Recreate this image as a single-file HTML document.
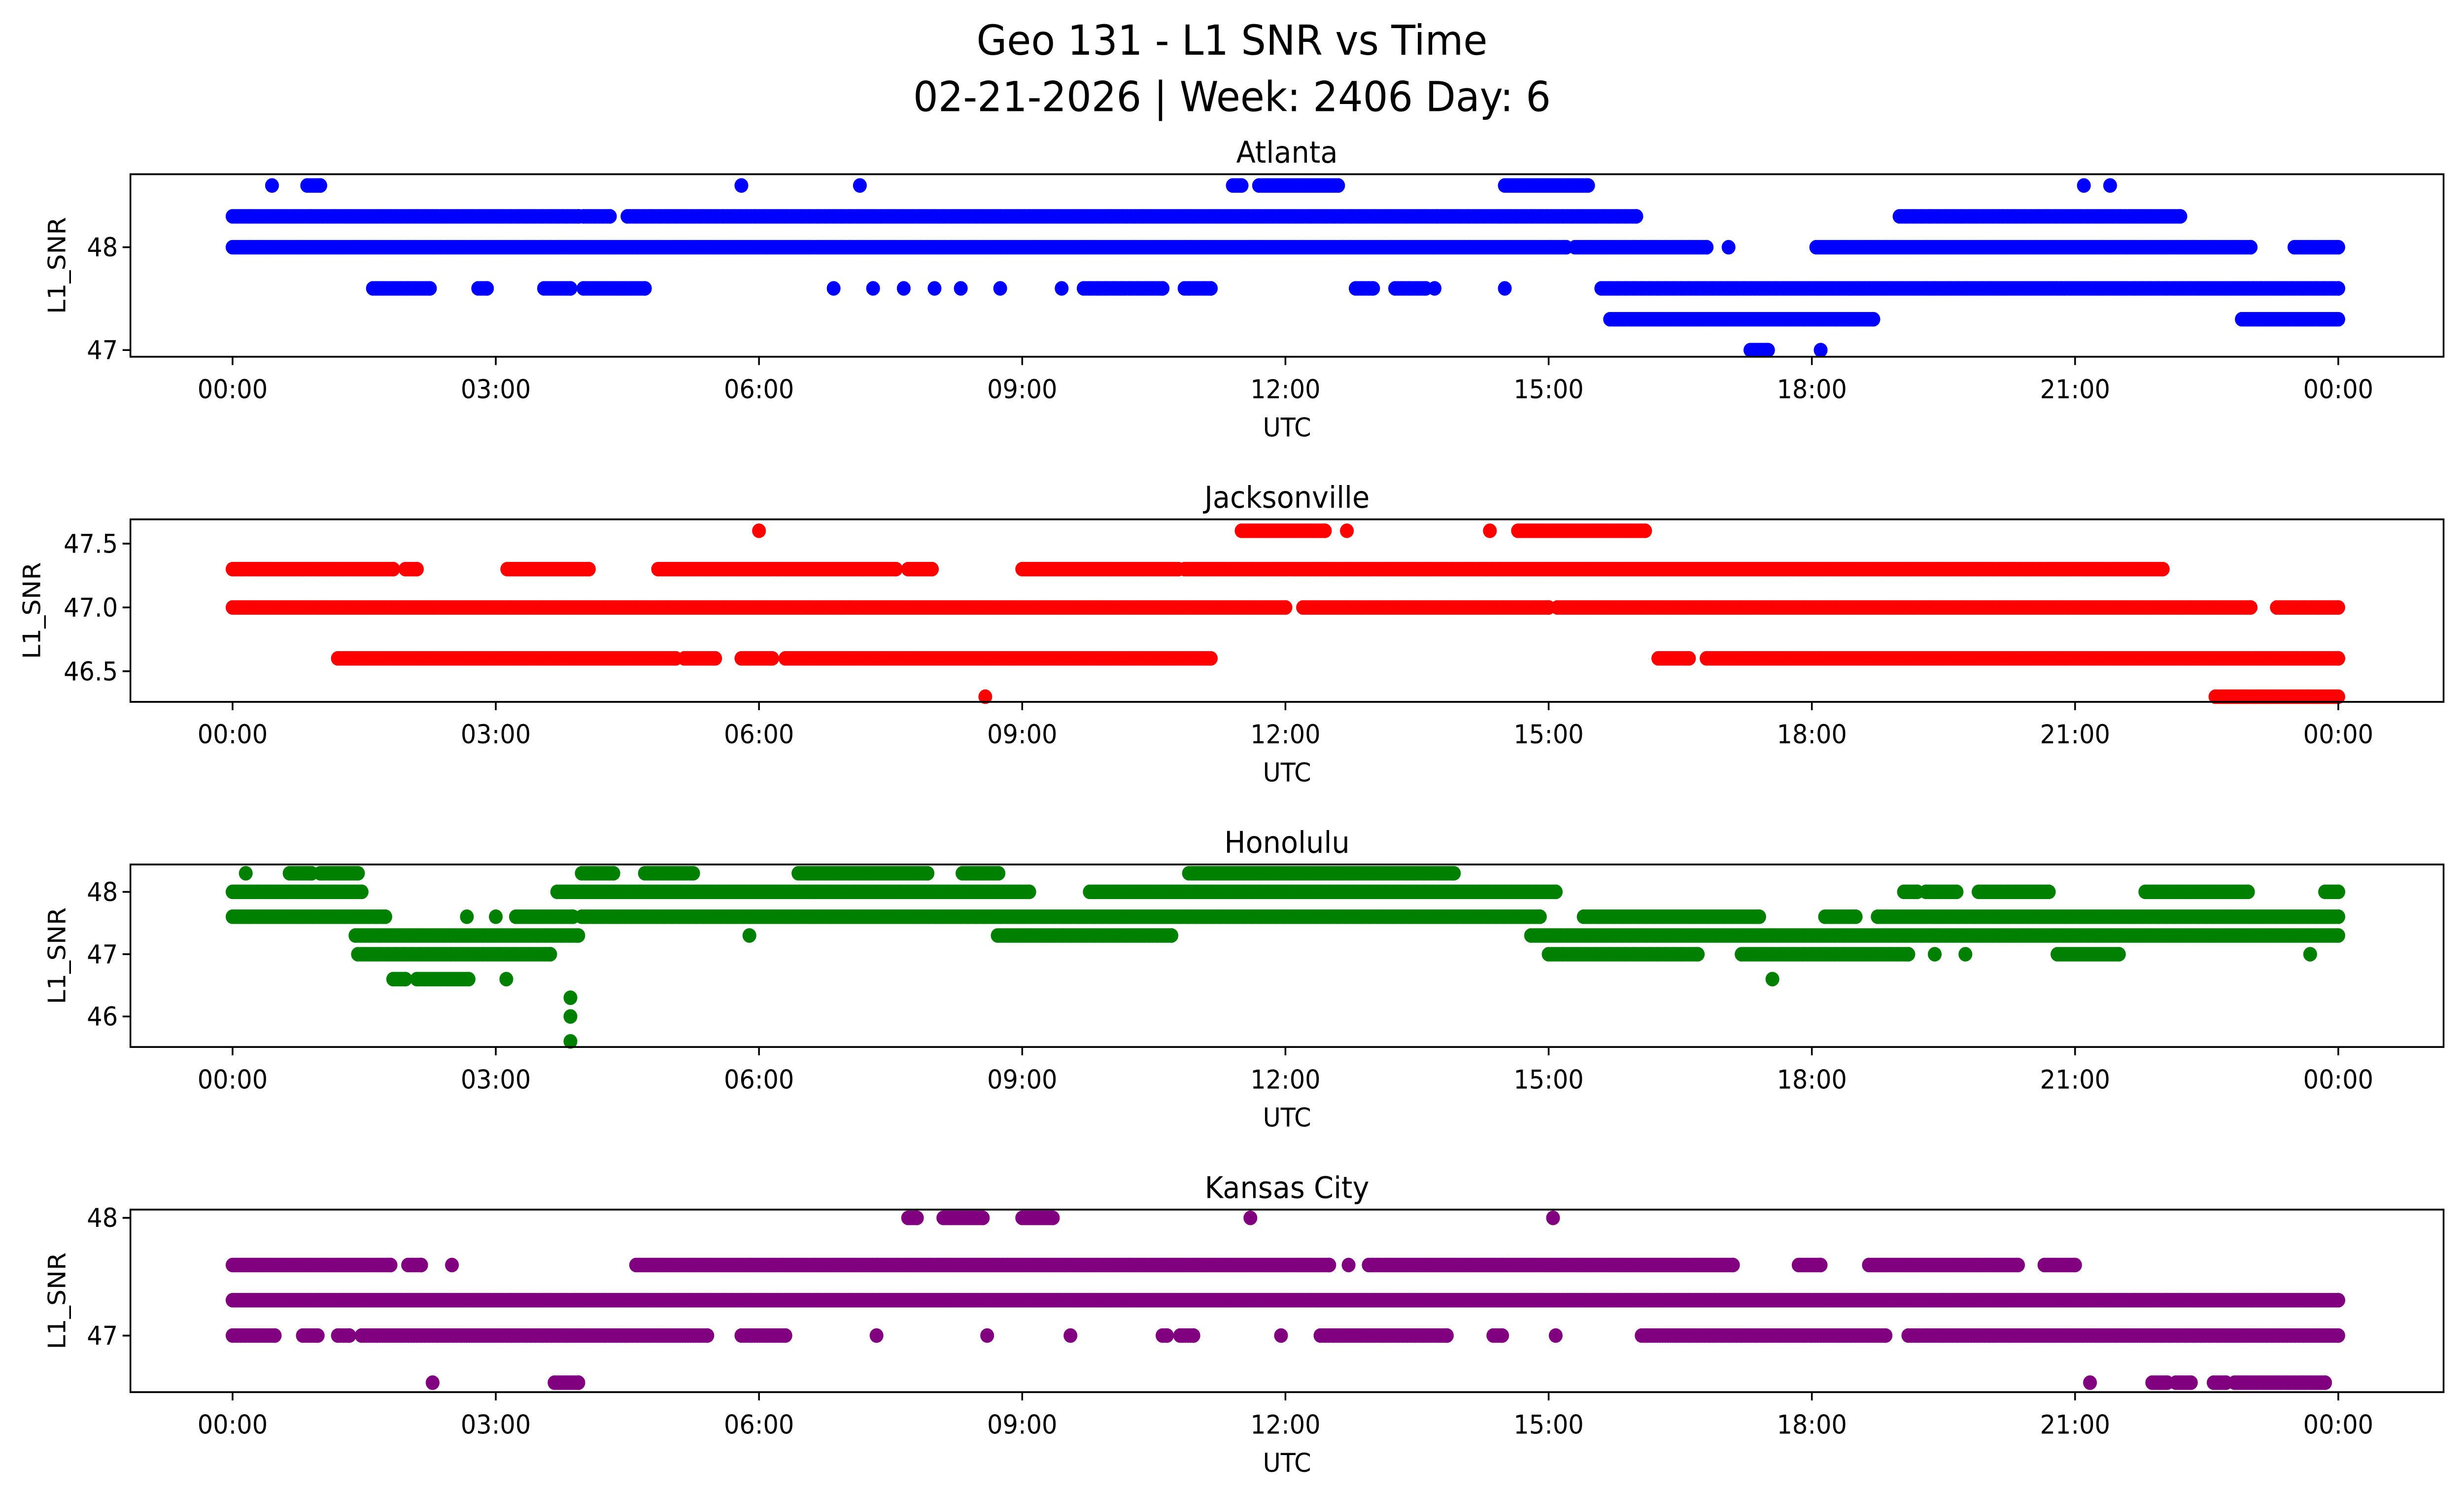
<!DOCTYPE html>
<html><head><meta charset="utf-8"><style>
html,body{margin:0;padding:0;background:#fff;width:100%;height:100%;overflow:hidden;}
svg{position:absolute;left:0;top:0;width:100vw;height:100vh;display:block;font-family:"DejaVu Sans","Liberation Sans",sans-serif;}
</style></head><body>
<svg id="fig" viewBox="0 0 1568 901" preserveAspectRatio="none" xmlns="http://www.w3.org/2000/svg">
<text x="784" y="33" font-size="25" text-anchor="middle">Geo 131 - L1 SNR vs Time</text>
<text x="784" y="67" font-size="25" text-anchor="middle">02-21-2026 | Week: 2406 Day: 6</text>
</svg>
<script>
const NS='http://www.w3.org/2000/svg';
const svg=document.getElementById('fig');
const panelNames=['Atlanta','Jacksonville','Honolulu','Kansas City'];
const panelColors=['#0000ff','#ff0000','#008000','#800080'];
const xTickHours=[0,3,6,9,12,15,18,21,24];
const xTickLabels=['00:00','03:00','06:00','09:00','12:00','15:00','18:00','21:00','00:00'];
const yTicksAtlanta=[47,48];
const yTicksJacksonville=[46.5,47.0,47.5];
const yTicksHonolulu=[46,47,48];
const yTicksKansas=[47,48];
const yDomainAtlanta=[46.935,48.71];
const yDomainJacksonville=[46.26,47.69];
const yDomainHonolulu=[45.51,48.44];
const yDomainKansas=[46.52,48.07];
// runs: [snr level, start hour, end hour]
const atlantaRuns=[[48,0,15.2],[48,15.3,16.8],[48,17.05,17.05],[48,18.05,23.0],[48,23.5,24],
[48.3,0,3.95],[48.3,4.0,4.3],[48.3,4.5,16.0],[48.3,19.0,22.2],
[48.6,0.45,0.45],[48.6,0.85,1.0],[48.6,5.8,5.8],[48.6,7.15,7.15],[48.6,11.4,11.5],[48.6,11.7,12.6],[48.6,14.5,15.45],[48.6,21.1,21.1],[48.6,21.4,21.4],
[47.6,1.6,2.25],[47.6,2.8,2.9],[47.6,3.55,3.85],[47.6,4.0,4.7],[47.6,6.85,6.85],[47.6,7.3,7.3],[47.6,7.65,7.65],[47.6,8.0,8.0],[47.6,8.3,8.3],[47.6,8.75,8.75],[47.6,9.45,9.45],[47.6,9.7,10.6],[47.6,10.85,11.15],[47.6,12.8,13.0],[47.6,13.25,13.6],[47.6,13.7,13.7],[47.6,14.5,14.5],[47.6,15.6,24],
[47.3,15.7,18.7],[47.3,22.9,24],
[47.0,17.3,17.5],[47.0,18.1,18.1]];
const jacksonvilleRuns=[[47.3,0,1.83],[47.3,1.97,2.1],[47.3,3.13,4.06],[47.3,4.85,7.56],[47.3,7.7,7.97],[47.3,9.0,10.78],[47.3,10.85,22.0],
[47.0,0,12.0],[47.0,12.2,15.0],[47.0,15.1,23.0],[47.0,23.3,24],
[46.6,1.2,5.05],[46.6,5.15,5.5],[46.6,5.8,6.15],[46.6,6.3,11.15],[46.6,16.25,16.6],[46.6,16.8,24],
[47.6,6.0,6.0],[47.6,11.5,12.45],[47.6,12.7,12.7],[47.6,14.33,14.33],[47.6,14.65,16.1],
[46.3,8.58,8.58],[46.3,22.6,24]];
const honoluluRuns=[[48.3,0.15,0.15],[48.3,0.65,0.9],[48.3,1.0,1.43],[48.3,3.98,4.34],[48.3,4.7,5.25],[48.3,6.45,7.92],[48.3,8.32,8.73],[48.3,10.9,13.92],
[48.0,0,1.47],[48.0,3.7,9.08],[48.0,9.77,15.08],[48.0,19.05,19.2],[48.0,19.3,19.65],[48.0,19.9,20.7],[48.0,21.8,22.97],[48.0,23.85,24],
[47.6,0,1.74],[47.6,2.67,2.67],[47.6,3.0,3.0],[47.6,3.23,3.88],[47.6,3.98,14.9],[47.6,15.4,17.4],[47.6,18.15,18.5],[47.6,18.75,24],
[47.3,1.4,3.94],[47.3,5.89,5.89],[47.3,8.72,10.7],[47.3,14.8,24],
[47.0,1.43,3.62],[47.0,15.0,16.7],[47.0,17.2,19.1],[47.0,19.4,19.4],[47.0,19.75,19.75],[47.0,20.8,21.5],[47.0,23.68,23.68],
[46.6,1.83,1.97],[46.6,2.1,2.69],[46.6,3.12,3.12],[46.6,17.55,17.55],
[46.3,3.85,3.85],[46.0,3.85,3.85],[45.6,3.85,3.85]];
const kansasRuns=[[48.0,7.7,7.8],[48.0,8.1,8.55],[48.0,9.0,9.35],[48.0,11.6,11.6],[48.0,15.05,15.05],
[47.6,0,1.8],[47.6,2.0,2.15],[47.6,2.5,2.5],[47.6,4.6,12.5],[47.6,12.72,12.72],[47.6,12.95,17.1],[47.6,17.85,18.1],[47.6,18.65,20.35],[47.6,20.65,21.0],
[47.3,0,24],
[47.0,0,0.48],[47.0,0.8,0.97],[47.0,1.2,1.33],[47.0,1.47,5.41],[47.0,5.8,6.3],[47.0,7.34,7.34],[47.0,8.6,8.6],[47.0,9.55,9.55],[47.0,10.6,10.65],[47.0,10.8,10.95],[47.0,11.95,11.95],[47.0,12.4,13.84],[47.0,14.37,14.47],[47.0,15.08,15.08],[47.0,16.06,18.84],[47.0,19.1,24],
[46.6,2.28,2.28],[46.6,3.67,3.94],[46.6,21.17,21.17],[46.6,21.88,22.05],[46.6,22.15,22.32],[46.6,22.58,22.72],[46.6,22.82,23.85]];

const panelRuns=[atlantaRuns,jacksonvilleRuns,honoluluRuns,kansasRuns];
const panelYTicks=[yTicksAtlanta,yTicksJacksonville,yTicksHonolulu,yTicksKansas];
const panelYDomains=[yDomainAtlanta,yDomainJacksonville,yDomainHonolulu,yDomainKansas];
const tickFmt=[v=>String(v),v=>v.toFixed(1),v=>String(v),v=>String(v)];
const yLabelX=[41.5,25.6,41.5,41.5];
const axL=83,axR=1555,x0=148,x24=1488;
const tops=[105,313,521,729],axH=110;
function xs(h){return x0+(x24-x0)*h/24;}
function mk(tag,attrs,parent){const e=document.createElementNS(NS,tag);for(const k in attrs)e.setAttribute(k,attrs[k]);(parent||svg).appendChild(e);return e;}
panelNames.forEach((name,i)=>{
  const top=tops[i],bot=top+axH,dom=panelYDomains[i];
  const ys=v=>bot-(v-dom[0])/(dom[1]-dom[0])*axH;
  const g=mk('g',{});
  
  
  const t=mk('text',{x:(axL+axR)/2,y:top-7,'font-size':18,'text-anchor':'middle'},g);
  t.textContent=name;
  
  
  const pts=mk('g',{fill:panelColors[i]},g);
  
  
  panelRuns[i].forEach(r=>{
    const lv=r[0],a=r[1],b=r[2];
    for(let h=a;h<=b+1e-9;h+=0.03){
      const c=mk('circle',{cx:xs(h).toFixed(1),cy:ys(lv).toFixed(1),r:4.4},pts);
      
      
    }
    if(b-a>0.03){const c=mk('circle',{cx:xs(b).toFixed(1),cy:ys(lv).toFixed(1),r:4.4},pts);
      
      }
  });
  const fr=mk('rect',{x:axL,y:top,width:axR-axL,height:axH,fill:'none',stroke:'#000','stroke-width':1.1},g);
  
  
  xTickHours.forEach((h,k)=>{
    mk('line',{x1:xs(h),x2:xs(h),y1:bot,y2:bot+5,stroke:'#000','stroke-width':1.1},g);
    const tl=mk('text',{x:xs(h),y:bot+25,'font-size':15.5,'text-anchor':'middle'},g);
    tl.textContent=xTickLabels[k];
    
    
  });
  panelYTicks[i].forEach(v=>{
    mk('line',{x1:axL-5,x2:axL,y1:ys(v),y2:ys(v),stroke:'#000','stroke-width':1.1},g);
    const tl=mk('text',{x:axL-8,y:ys(v)+5.5,'font-size':15.5,'text-anchor':'end'},g);
    tl.textContent=tickFmt[i](v);
    
    
  });
  const xl=mk('text',{x:(axL+axR)/2,y:bot+48,'font-size':15.5,'text-anchor':'middle'},g);
  xl.textContent='UTC';
  
  
  const yl=mk('text',{x:0,y:0,'font-size':15.5,'text-anchor':'middle',transform:'translate('+yLabelX[i]+','+(top+axH/2)+') rotate(-90)'},g);
  yl.textContent='L1_SNR';
  
  
});
</script>
</body></html>
